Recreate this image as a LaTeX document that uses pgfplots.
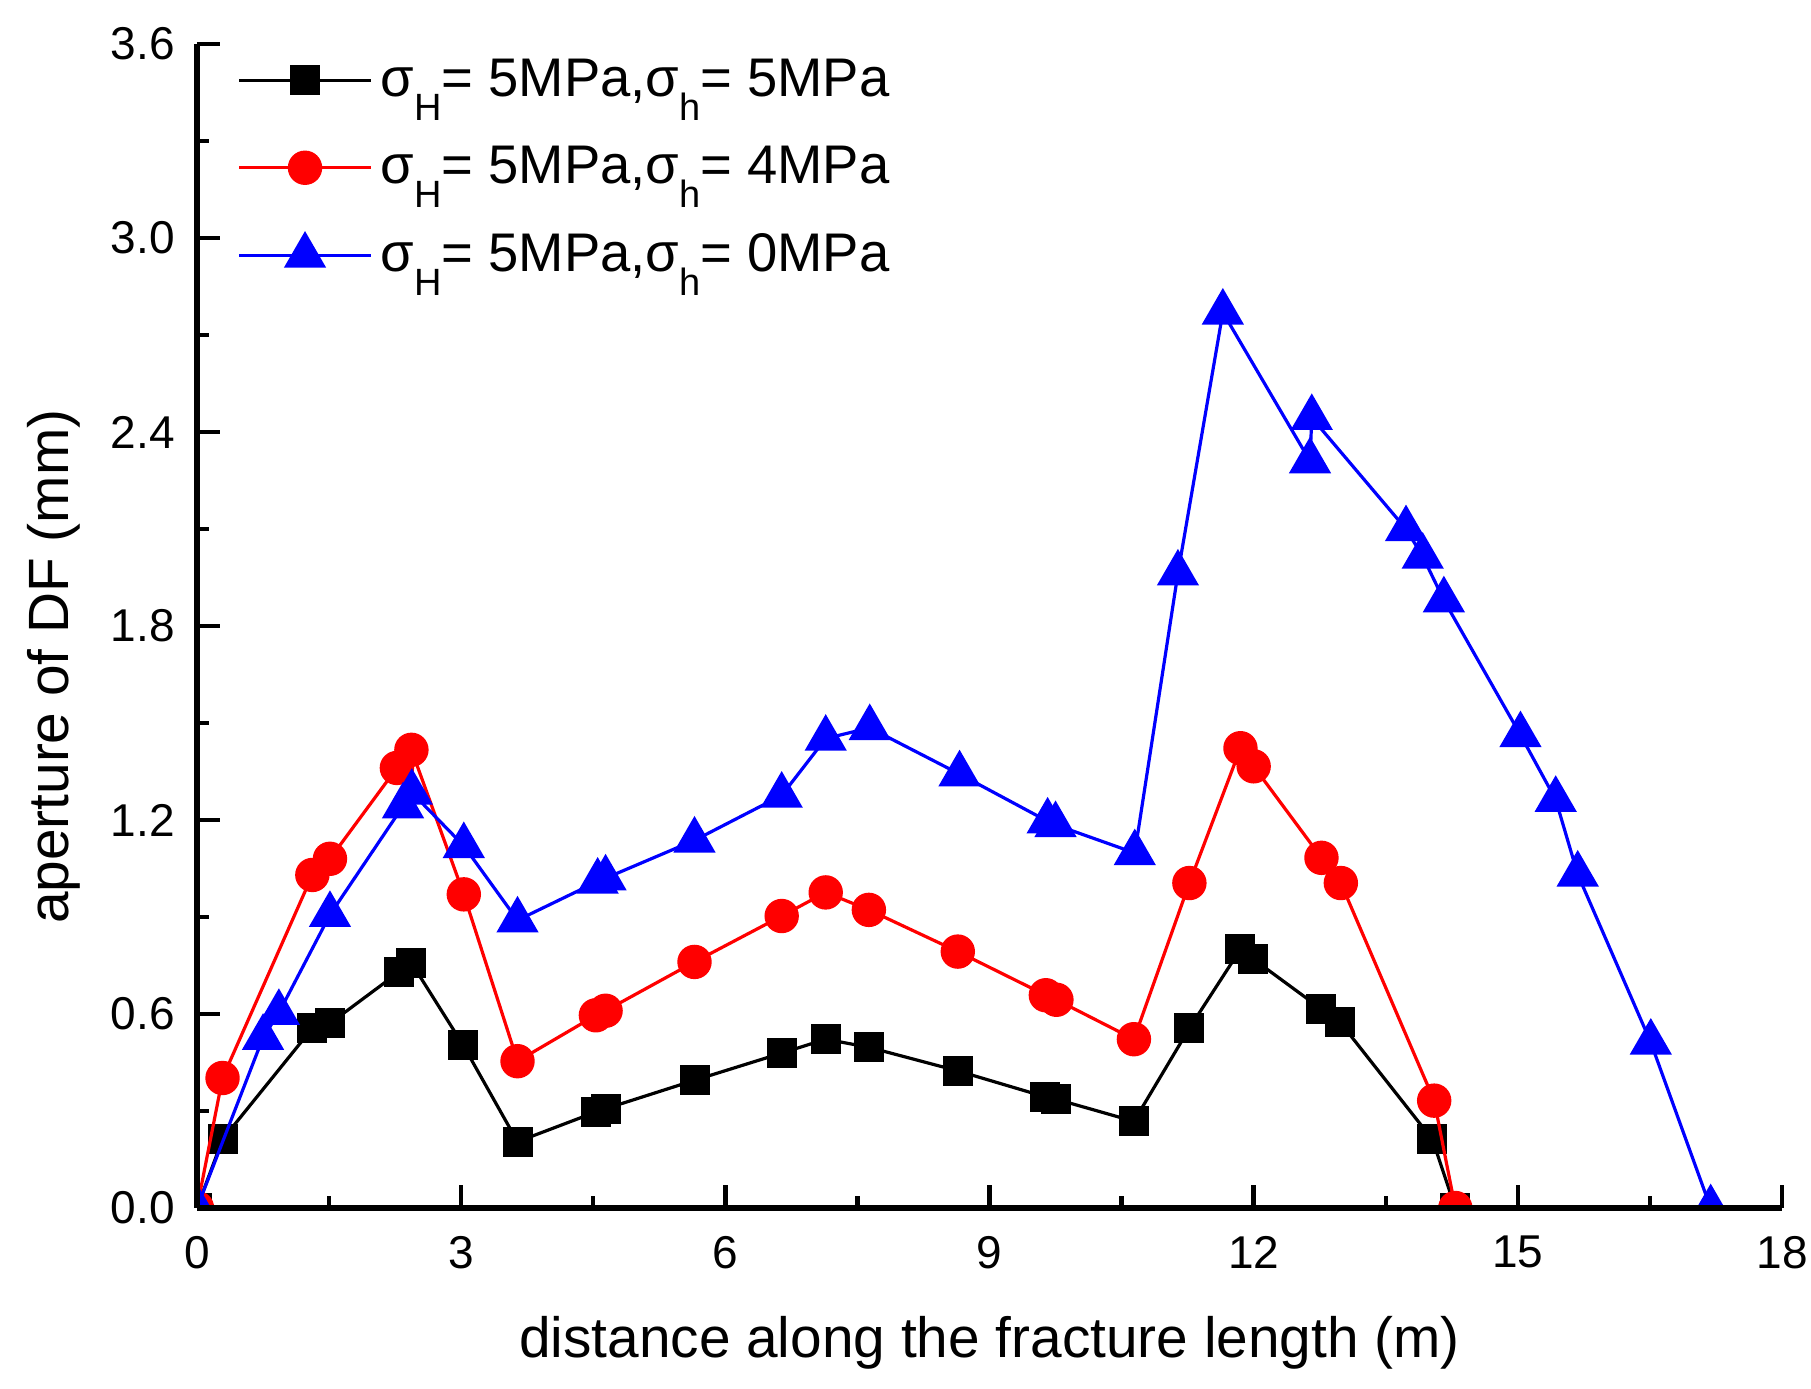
\documentclass[border=0pt]{standalone}
\usepackage{fontspec}
\setmainfont{Liberation Sans}
\usepackage{pgfplots}
\pgfplotsset{compat=1.18}
\newcommand\sub[1]{\raisebox{-6pt}{\fontsize{9.5}{9.5}\selectfont #1}}
\begin{document}
\begin{tikzpicture}
\useasboundingbox (-49.25pt,-45.25pt) rectangle (403.5pt,302pt);
\begin{axis}[
  at={(0,0)}, anchor=south west,
  scale only axis,
  width=396.25pt, height=291pt,
  xmin=0, xmax=18, ymin=0, ymax=3.6,
  axis x line=bottom, axis y line=left,
  axis line style={line width=1.5pt, -},
  axis on top,
  xtick={0,3,...,18}, ytick={0,0.6,...,3.6},
  minor xtick={1.5,4.5,...,16.5}, minor ytick={0.3,0.9,...,3.3},
  tick align=inside,
  major tick length=5.8pt, minor tick length=2.9pt,
  every tick/.style={line width=1.1pt, black},
  /pgf/number format/assume math mode=true,
  yticklabel style={/pgf/number format/fixed, /pgf/number format/fixed zerofill, /pgf/number format/precision=1, font=\fontsize{11.5}{13}\selectfont, xshift=-2pt},
  xticklabel style={font=\fontsize{11.5}{13}\selectfont, yshift=-3.5pt},
  xlabel={distance along the fracture length (m)},
  ylabel={aperture of DF (mm)},
  xlabel style={font=\fontsize{14.2}{16}\selectfont, at={(axis description cs:0.5,0)}, anchor=base, yshift=-37.5pt},
  ylabel style={font=\fontsize{14.2}{16}\selectfont, at={(axis description cs:-0.073,0.465)}, anchor=south, inner sep=0pt},
  clip=true, clip marker paths=true,
  legend style={at={(axis description cs:0.025,0.995)}, anchor=north west, draw=none, fill=none,
    font=\fontsize{13.6}{15}\selectfont, row sep=7pt, inner sep=0pt},
  legend cell align=left,
  legend image code/.code={\draw[mark repeat=2,mark phase=2] plot coordinates {(0cm,0cm)(0.58cm,0cm)(1.16cm,0cm)};},
]
\addplot[black, line width=0.8pt, mark=square*, mark size=3.35pt, mark options={solid}] coordinates {
(0,0)(0.29,0.212)(1.31,0.556)(1.51,0.571)(2.29,0.729)(2.435,0.758)(3.02,0.505)(3.64,0.205)
(4.53,0.297)(4.64,0.307)(5.65,0.395)(6.64,0.479)(7.14,0.522)(7.63,0.497)(8.64,0.424)
(9.63,0.344)(9.75,0.337)(10.64,0.268)(11.27,0.556)(11.85,0.80)(11.99,0.771)(12.77,0.615)
(12.98,0.575)(14.03,0.212)(14.29,0)};
\addlegendentry{σ\sub{H}= 5MPa,σ\sub{h}= 5MPa}
\addplot[red, line width=0.8pt, mark=*, mark size=3.9pt, mark options={solid}] coordinates {
(0,0)(0.29,0.402)(1.31,1.03)(1.51,1.08)(2.27,1.361)(2.435,1.417)(3.03,0.970)(3.64,0.454)
(4.53,0.596)(4.64,0.610)(5.65,0.761)(6.64,0.903)(7.14,0.976)(7.63,0.922)(8.64,0.793)
(9.64,0.658)(9.76,0.644)(10.64,0.522)(11.27,1.005)(11.85,1.422)(12.00,1.366)(12.77,1.083)
(12.99,1.005)(14.05,0.332)(14.29,0)};
\addlegendentry{σ\sub{H}= 5MPa,σ\sub{h}= 4MPa}
\addplot[blue, line width=0.8pt, mark=triangle*, mark size=5.3pt, mark options={solid}] coordinates {
(0,0)(0.75,0.527)(0.93,0.604)(1.51,0.907)(2.34,1.243)(2.44,1.285)(3.03,1.12)(3.64,0.89)
(4.55,1.01)(4.64,1.02)(5.65,1.137)(6.64,1.276)(7.14,1.452)(7.64,1.485)(8.66,1.342)
(9.66,1.196)(9.75,1.185)(10.65,1.098)(11.14,1.963)(11.65,2.77)(12.64,2.31)(12.66,2.444)
(13.73,2.10)(13.92,2.015)(14.16,1.88)(15.03,1.463)(15.43,1.263)(15.68,1.032)(16.51,0.512)(17.19,0)};
\addlegendentry{σ\sub{H}= 5MPa,σ\sub{h}= 0MPa}
\end{axis}
\end{tikzpicture}
\end{document}
